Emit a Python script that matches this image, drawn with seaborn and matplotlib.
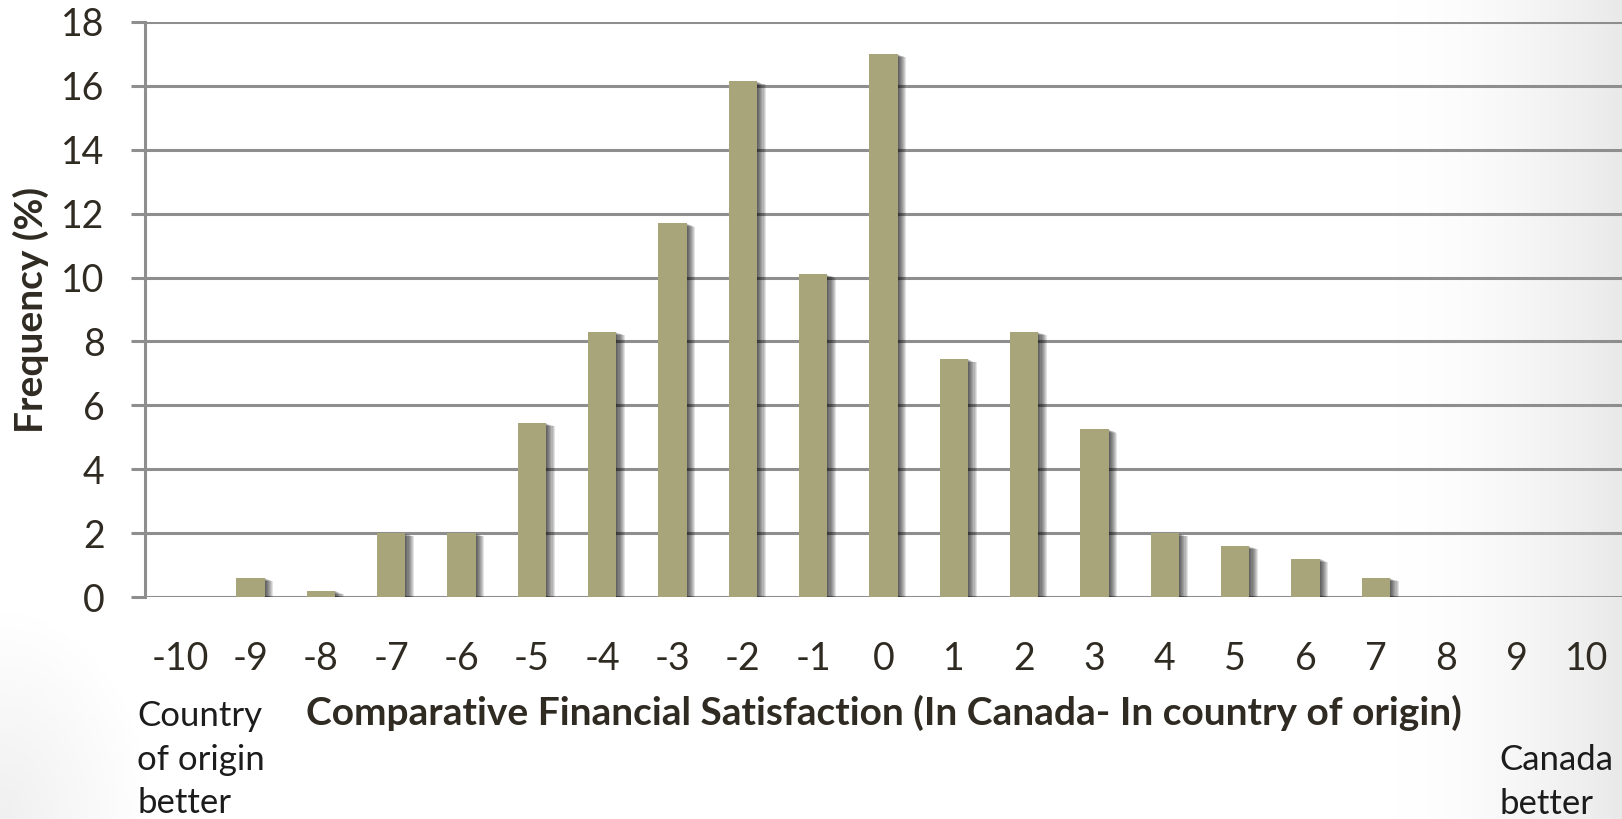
import numpy as np
import pandas as pd
import matplotlib
matplotlib.use("Agg")
import matplotlib.pyplot as plt
import matplotlib.patheffects as pe
import seaborn as sns

# Difference score: satisfaction in Canada minus satisfaction in country of origin
scores = list(range(-10, 11))
frequency = [0.0, 0.6, 0.2, 2.0, 2.0, 5.45, 8.3, 11.7, 16.15, 10.1, 17.0,
             7.45, 8.3, 5.25, 2.0, 1.6, 1.2, 0.6, 0.0, 0.0, 0.0]
y_ticks = list(range(0, 19, 2))

x_label = "Comparative Financial Satisfaction (In Canada- In country of origin)"
y_label = "Frequency (%)"
left_note = "Country\nof origin\nbetter"
right_note = "Canada\nbetter"

BAR = "#a8a57b"
TEXT = "#2f2b22"
GRID = "#8e8e8e"

sns.set_theme(style="white")
plt.rcParams["font.family"] = ["Lato", "DejaVu Sans"]

W, H, DPI = 1622, 819, 100
fig = plt.figure(figsize=(W / DPI, H / DPI), dpi=DPI)

# soft grey vignette on the right edge and lower-left corner
bg = fig.add_axes([0, 0, 1, 1], zorder=-10)
xx, yy = np.meshgrid(np.linspace(0, 1, 400), np.linspace(0, 1, 200))
shade = np.clip((xx - 0.86) / 0.14, 0, 1) ** 1.6 * 0.085
rr = np.sqrt((xx / 0.09) ** 2 + ((1 - yy) / 0.25) ** 2)
shade = shade + np.clip(1 - rr, 0, 1) * 0.06
img = np.dstack([1 - shade] * 3)
bg.imshow(img, extent=[0, 1, 0, 1], aspect="auto", origin="upper")
bg.set_axis_off()

ax = fig.add_axes([145 / W, 1 - 597 / H, (W - 145) / W, (597 - 22) / H])
ax.set_facecolor("none")

df = pd.DataFrame({"score": [str(s) for s in scores], "freq": frequency})
sns.barplot(data=df, x="score", y="freq", order=df["score"], color=BAR,
            saturation=1, width=0.4, ax=ax, zorder=3)

# blurred drop shadow for each bar
shadow = [pe.SimplePatchShadow(offset=(d * 0.8, -d * 0.3), shadow_rgbFace="black",
                               alpha=0.11) for d in range(1, 9)]
for p in ax.patches:
    p.set_linewidth(0)
    p.set_path_effects(shadow + [pe.Normal()])

ax.set_xlim(-0.5, len(scores) - 0.5)
ax.set_ylim(0, 18)
ax.set_yticks(y_ticks)
ax.yaxis.grid(True, color=GRID, linewidth=2.2, zorder=0)
ax.set_axisbelow(True)

for side in ["top", "right", "bottom"]:
    ax.spines[side].set_visible(False)
ax.spines["left"].set_color(GRID)
ax.spines["left"].set_linewidth(2.2)

ax.tick_params(axis="y", which="major", left=True, length=10, width=2.2,
               color=GRID, pad=19, labelsize=27, labelcolor=TEXT)
ax.tick_params(axis="x", bottom=False, pad=26, labelsize=27, labelcolor=TEXT)

ax.set_xlabel(x_label, fontsize=28, fontweight="bold", color=TEXT)
ax.xaxis.set_label_coords(0.5, -(713 - 597) / 575)
ax.xaxis.label.set_verticalalignment("center")
ax.set_ylabel(y_label, fontsize=28, fontweight="bold", color=TEXT)
ax.yaxis.set_label_coords(-(145 - 31) / (W - 145), 0.5)
ax.yaxis.label.set_verticalalignment("center")

fig.text(137 / W, 1 - 700 / H, left_note, fontsize=25, color="#1c1c1c",
         ha="left", va="top", linespacing=1.45)
fig.text(1499 / W, 1 - 744 / H, right_note, fontsize=25, color="#1c1c1c",
         ha="left", va="top", linespacing=1.45)

fig.savefig("out.png", dpi=DPI)
